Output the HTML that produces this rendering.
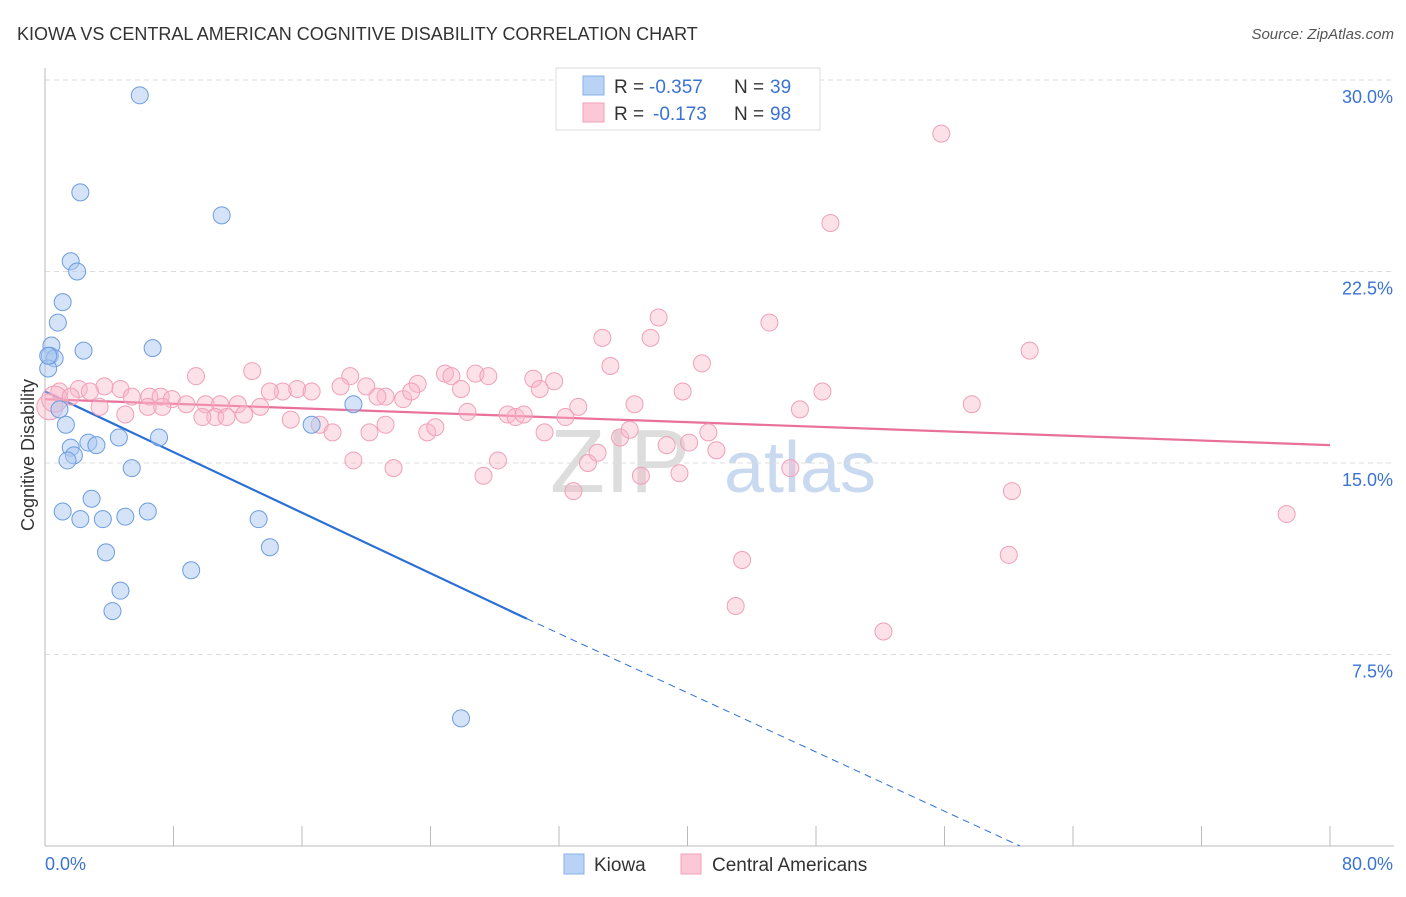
<!DOCTYPE html>
<html><head><meta charset="utf-8"><style>
body{margin:0;background:#fff;font-family:"Liberation Sans",sans-serif}
svg text{font-family:"Liberation Sans",sans-serif}
</style></head><body>
<svg id="c" width="1406" height="892">
<text x="17" y="40" font-size="18" fill="#333">KIOWA VS CENTRAL AMERICAN COGNITIVE DISABILITY CORRELATION CHART</text>
<text x="1394" y="39" font-size="15" fill="#555" text-anchor="end" font-style="italic">Source: ZipAtlas.com</text>
<text x="34" y="455" font-size="18" fill="#333" text-anchor="middle" transform="rotate(-90 34 455)">Cognitive Disability</text>
<text x="620" y="492" font-size="90" fill="#ddd" font-family="Liberation Serif" text-anchor="middle">ZIP</text>
<text x="800" y="492" font-size="72" fill="#c9daf0" text-anchor="middle">atlas</text>
<g id="grid"></g><g id="lines"></g><g id="pts"></g>
<g>
<rect x="556" y="68" width="264" height="62" fill="#fff" stroke="#ddd"/>
<rect x="583" y="76" width="21" height="19" fill="#b8d3f5" stroke="#8ab0e8"/>
<rect x="583" y="103" width="21" height="19" fill="#fcc7d6" stroke="#f0a0b8"/>
<text x="614" y="93" font-size="19" fill="#333">R =</text>
<text x="649" y="93" font-size="19" fill="#3b73d4">-0.357</text>
<text x="734" y="93" font-size="19" fill="#333">N =</text>
<text x="770" y="93" font-size="19" fill="#3b73d4">39</text>
<text x="614" y="120" font-size="19" fill="#333">R =</text>
<text x="653" y="120" font-size="19" fill="#3b73d4">-0.173</text>
<text x="734" y="120" font-size="19" fill="#333">N =</text>
<text x="770" y="120" font-size="19" fill="#3b73d4">98</text>
</g>
<g>
<rect x="564" y="854" width="20" height="20" fill="#b8d3f5" stroke="#8ab0e8"/>
<text x="594" y="871" font-size="19" fill="#333">Kiowa</text>
<rect x="681" y="854" width="20" height="20" fill="#fcc7d6" stroke="#f0a0b8"/>
<text x="712" y="871" font-size="19" fill="#333">Central Americans</text>
</g>
</svg>
<script>
const yTicks=[7.5,15,22.5,30];
const yTickLabels=["7.5%","15.0%","22.5%","30.0%"];
const kiowaX=[5.9,2.2,11.0,1.6,2.0,1.1,0.8,0.4,2.4,6.7,0.3,0.6,0.2,0.9,1.3,19.2,16.6,4.6,7.1,2.7,3.2,1.6,1.8,1.4,5.4,2.9,1.1,6.4,2.2,3.6,5.0,13.3,14.0,3.8,9.1,4.7,4.2,25.9,0.2];
const kiowaY=[29.4,25.6,24.7,22.9,22.5,21.3,20.5,19.6,19.4,19.5,19.2,19.1,18.7,17.1,16.5,17.3,16.5,16.0,16.0,15.8,15.7,15.6,15.3,15.1,14.8,13.6,13.1,13.1,12.8,12.8,12.9,12.8,11.7,11.5,10.8,10.0,9.2,5.0,19.2];
const centX=[55.8,48.9,38.2,45.1,34.7,37.7,61.3,40.9,35.2,12.9,9.4,19.0,24.9,26.8,25.3,27.6,30.4,31.7,23.2,18.4,20.0,15.7,14.8,14.0,16.6,39.7,48.4,4.7,3.7,2.1,0.9,2.8,5.4,6.5,7.2,7.9,8.8,6.4,7.3,10.0,10.9,12.0,13.4,10.6,12.4,15.3,17.1,17.9,21.2,20.7,22.3,22.8,25.9,30.8,26.3,28.8,29.3,29.8,32.4,33.2,36.7,47.0,57.7,9.8,11.3,21.2,23.8,24.3,31.1,33.8,34.4,35.8,36.4,38.7,40.1,41.3,41.8,19.2,20.2,21.7,28.2,27.3,32.9,37.1,39.5,46.4,60.2,77.3,43.4,60.0,43.0,52.2,0.3,0.6,1.6,3.4,5.0];
const centY=[27.9,24.4,20.7,20.5,19.9,19.9,19.4,18.9,18.8,18.6,18.4,18.4,18.5,18.5,18.4,18.4,18.3,18.2,18.1,18.0,18.0,17.9,17.8,17.8,17.8,17.8,17.8,17.9,18.0,17.9,17.8,17.8,17.6,17.6,17.6,17.5,17.3,17.2,17.2,17.3,17.3,17.3,17.2,16.8,16.9,16.7,16.5,16.2,17.6,17.6,17.5,17.8,17.9,17.9,17.0,16.9,16.8,16.9,16.8,17.2,17.3,17.1,17.3,16.8,16.8,16.5,16.2,16.4,16.2,15.0,15.4,16.0,16.3,15.7,15.8,16.2,15.5,15.1,16.2,14.8,15.1,14.5,13.9,14.5,14.6,14.8,13.9,13.0,11.2,11.4,9.4,8.4,17.2,17.5,17.6,17.2,16.9];
const kiowaFit=[[0,17.8],[30,8.9],[60.7,0]];
const centFit=[[0,17.5],[80,15.7]];
const X=v=>45+v/80*1285, Y=v=>846-v/30*766;
const NS="http://www.w3.org/2000/svg";
function el(t,a,p){const e=document.createElementNS(NS,t);for(const k in a)e.setAttribute(k,a[k]);document.getElementById(p).appendChild(e);return e;}
yTicks.forEach((t,i)=>{
 const g=el('line',{x1:45,x2:1394,y1:Y(t),y2:Y(t),stroke:'#ddd','stroke-dasharray':'5,4'},'grid');
 
 
 const tx=el('text',{x:1393,y:Y(t)+23,'font-size':18,fill:'#3b73d4','text-anchor':'end'},'grid');tx.textContent=yTickLabels[i];
 
 
});
el('line',{x1:45,x2:45,y1:68,y2:846,stroke:'#bbb'},'grid');
el('line',{x1:45,x2:1394,y1:846,y2:846,stroke:'#bbb'},'grid');
for(let i=0;i<=10;i++){const l=el('line',{x1:X(i*8),x2:X(i*8),y1:826,y2:846,stroke:'#bbb'},'grid');
 
 }
let a=el('text',{x:45,y:870,'font-size':18,fill:'#3b73d4'},'grid');a.textContent='0.0%';


a=el('text',{x:1393,y:870,'font-size':18,fill:'#3b73d4','text-anchor':'end'},'grid');a.textContent='80.0%';


centX.forEach((x,i)=>{const c=el('circle',{cx:X(x),cy:Y(centY[i]),r:i>=92&&i<94?13:8.5,fill:'rgba(250,180,200,0.4)',stroke:'#f0a0b8'},'pts');
 
 });
kiowaX.forEach((x,i)=>{const c=el('circle',{cx:X(x),cy:Y(kiowaY[i]),r:8.5,fill:'rgba(170,200,240,0.5)',stroke:'#6d9de0'},'pts');
 
 });
let l=el('line',{x1:X(kiowaFit[0][0]),y1:Y(kiowaFit[0][1]),x2:X(kiowaFit[1][0]),y2:Y(kiowaFit[1][1]),stroke:'#2a6fd6','stroke-width':2.2},'lines');


l=el('line',{x1:X(kiowaFit[1][0]),y1:Y(kiowaFit[1][1]),x2:X(kiowaFit[2][0]),y2:Y(kiowaFit[2][1]),stroke:'#2a6fd6','stroke-width':1,'stroke-dasharray':'7,5'},'lines');


l=el('line',{x1:X(centFit[0][0]),y1:Y(centFit[0][1]),x2:X(centFit[1][0]),y2:Y(centFit[1][1]),stroke:'#e8709a','stroke-width':2.2},'lines');


</script>
</body></html>
